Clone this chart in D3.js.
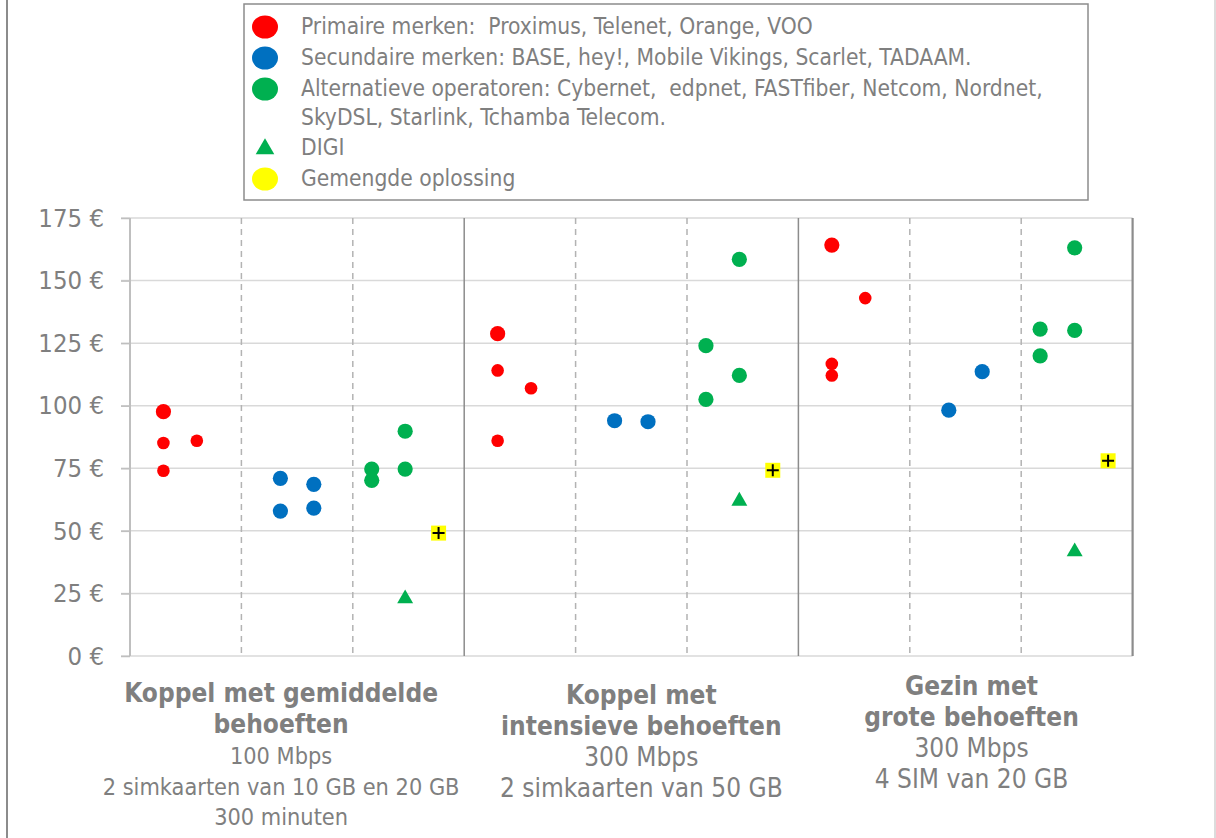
<!DOCTYPE html>
<html><head><meta charset="utf-8">
<script src="https://cdn.jsdelivr.net/npm/d3@7"></script>
<style>
  body { margin: 0; background: #fff; }
  text { font-family: "DejaVu Sans Condensed", "DejaVu Sans", sans-serif; fill: #7f7f7f; }
</style>
</head><body>
<svg width="1216" height="838"></svg>
<script>
// prices in euro per month, x = position inside the 9 sub-columns (3 profiles x 3 provider types)
var primaireTopX = [0.3, 3.3, 6.3];
var primaireTopY = [97.6, 128.8, 164.2];
var primaireX = [0.3, 0.3, 0.6, 3.3, 3.3, 3.6, 6.3, 6.3, 6.6];
var primaireY = [85.1, 74.0, 86.0, 114.1, 86.0, 107.0, 116.7, 112.1, 143.0];
var secundaireX = [1.35, 1.35, 1.65, 1.65, 4.35, 4.65, 7.35, 7.65];
var secundaireY = [71.0, 57.9, 68.6, 59.1, 94.0, 93.6, 98.2, 113.6];
var alternatiefX = [2.17, 2.17, 2.47, 2.47, 5.17, 5.17, 5.47, 5.47, 8.17, 8.17, 8.48, 8.48];
var alternatiefY = [74.7, 70.2, 89.8, 74.7, 124.0, 102.5, 158.5, 112.1, 130.6, 119.9, 163.1, 130.1];
var digiX = [2.47, 5.47, 8.48];
var digiY = [22.9, 61.9, 41.7];
var gemengdX = [2.77, 5.77, 8.78];
var gemengdY = [49.1, 74.2, 78.0];

var yTicks = [0, 25, 50, 75, 100, 125, 150, 175];
var profielen = [
    { titel: ["Koppel met gemiddelde", "behoeften"], sub: ["100 Mbps", "2 simkaarten van 10 GB en 20 GB", "300 minuten"] },
    { titel: ["Koppel met", "intensieve behoeften"], sub: ["300 Mbps", "2 simkaarten van 50 GB"] },
    { titel: ["Gezin met", "grote behoeften"], sub: ["300 Mbps", "4 SIM van 20 GB"] }
];
var legendLabels = [
    ["Primaire merken:  Proximus, Telenet, Orange, VOO"],
    ["Secundaire merken: BASE, hey!, Mobile Vikings, Scarlet, TADAAM."],
    ["Alternatieve operatoren: Cybernet,  edpnet, FASTfiber, Netcom, Nordnet,", "SkyDSL, Starlink, Tchamba Telecom."],
    ["DIGI"],
    ["Gemengde oplossing"]
];

var RED = "#ff0000", BLUE = "#0070c0", GREEN = "#00b050", YELLOW = "#ffff00";

var svg = d3.select("svg");

var x = d3.scaleLinear().domain([0, 9]).range([130, 1132.6]);
var y = d3.scaleLinear().domain([0, 175]).range([656, 218]);

// outer frame of the picture
svg.append("line").attr("x1", 7).attr("x2", 7).attr("y1", 0).attr("y2", 838)
    .attr("stroke", "#8c8c8c").attr("stroke-width", 2);
svg.append("line").attr("x1", 1215).attr("x2", 1215).attr("y1", 0).attr("y2", 838)
    .attr("stroke", "#d0d0d0").attr("stroke-width", 1.5);

// horizontal gridlines
svg.append("g").selectAll("line").data(yTicks).enter().append("line")
    .attr("x1", x(0) - 9).attr("x2", x(9))
    .attr("y1", function (d) { return y(d); }).attr("y2", function (d) { return y(d); })
    .attr("stroke", "#d9d9d9").attr("stroke-width", 1.5);

// vertical separators: dashed between provider types, solid between profiles
var seps = d3.range(1, 10);
svg.append("g").selectAll("line").data(seps).enter().append("line")
    .attr("x1", function (d) { return x(d); }).attr("x2", function (d) { return x(d); })
    .attr("y1", y(175)).attr("y2", y(0))
    .attr("stroke", function (d) { return d % 3 === 0 ? "#8c8c8c" : "#b3b3b3"; })
    .attr("stroke-width", function (d) { return d === 9 ? 2.2 : 1.5; })
    .attr("stroke-dasharray", function (d) { return d % 3 === 0 ? null : "6,5"; });

// y axis
var yAxis = d3.axisLeft(y).tickValues(yTicks).tickSize(9).tickPadding(17)
    .tickFormat(function (d) { return d + " €"; });
var ya = svg.append("g").attr("transform", "translate(" + x(0) + ",0)").call(yAxis);
ya.select(".domain").attr("stroke", "#bfbfbf").attr("stroke-width", 2).attr("d", "M0," + y(175) + "V" + y(0));
ya.selectAll(".tick line").attr("stroke", "#bfbfbf").attr("stroke-width", 1.5);
ya.selectAll(".tick text").style("font-size", "25.5px").attr("fill", "#7f7f7f")
    .style("font-family", "'DejaVu Sans Condensed', sans-serif");

// points
function zip(xs, ys) { return xs.map(function (v, i) { return [v, ys[i]]; }); }

var pts = svg.append("g");
pts.selectAll(".ptop").data(zip(primaireTopX, primaireTopY)).enter().append("circle")
    .attr("cx", function (d) { return x(d[0]); }).attr("cy", function (d) { return y(d[1]); })
    .attr("r", 7.6).attr("fill", RED);
pts.selectAll(".prim").data(zip(primaireX, primaireY)).enter().append("circle")
    .attr("cx", function (d) { return x(d[0]); }).attr("cy", function (d) { return y(d[1]); })
    .attr("r", 6.3).attr("fill", RED);
pts.selectAll(".sec").data(zip(secundaireX, secundaireY)).enter().append("circle")
    .attr("cx", function (d) { return x(d[0]); }).attr("cy", function (d) { return y(d[1]); })
    .attr("r", 7.6).attr("fill", BLUE);
pts.selectAll(".alt").data(zip(alternatiefX, alternatiefY)).enter().append("circle")
    .attr("cx", function (d) { return x(d[0]); }).attr("cy", function (d) { return y(d[1]); })
    .attr("r", 7.6).attr("fill", GREEN);
pts.selectAll(".digi").data(zip(digiX, digiY)).enter().append("path")
    .attr("d", d3.symbol().type(d3.symbolTriangle).size(110))
    .attr("transform", function (d) { return "translate(" + x(d[0]) + "," + y(d[1]) + ")"; })
    .attr("fill", GREEN);
var mix = pts.selectAll(".mix").data(zip(gemengdX, gemengdY)).enter().append("g")
    .attr("transform", function (d) { return "translate(" + x(d[0]) + "," + y(d[1]) + ")"; });
mix.append("rect").attr("x", -7.5).attr("y", -7.5).attr("width", 15).attr("height", 15).attr("fill", YELLOW);
mix.append("path").attr("d", "M-6,0H6M0,-6V6").attr("stroke", "#000").attr("stroke-width", 2);

// category labels under the axis
var catDx = [-16, 10, 6];
var catDy = [0, 2, -7];
var subSize = [23.3, 26, 26];
profielen.forEach(function (p, i) {
    var cx = x(i * 3 + 1.5) + catDx[i];
    var t = svg.append("text").attr("text-anchor", "middle")
        .attr("transform", "translate(" + cx + "," + (702 + catDy[i]) + ")");
    p.titel.forEach(function (line, j) {
        t.append("tspan").attr("x", 0).attr("y", j * 31).style("font-weight", "bold")
            .style("font-size", "26px").text(line);
    });
    p.sub.forEach(function (line, j) {
        t.append("tspan").attr("x", 0).attr("y", 62 + j * 30.5)
            .style("font-size", subSize[i] + "px").text(line);
    });
});

// legend
var lg = svg.append("g");
lg.append("rect").attr("x", 244).attr("y", 4).attr("width", 844).attr("height", 196)
    .attr("fill", "#fff").attr("stroke", "#8c8c8c").attr("stroke-width", 1.5);
var rowY = [27, 58, 89, 148, 179];
var legendColors = [RED, BLUE, GREEN, GREEN, YELLOW];
legendLabels.forEach(function (lines, i) {
    if (i === 3) {
        lg.append("path").attr("d", d3.symbol().type(d3.symbolTriangle).size(150))
            .attr("transform", "translate(265," + (rowY[i] + 1) + ")").attr("fill", legendColors[i]);
    } else {
        lg.append("ellipse").attr("cx", 265).attr("cy", rowY[i]).attr("rx", 13).attr("ry", 11.5)
            .attr("fill", legendColors[i]);
    }
    lines.forEach(function (line, j) {
        lg.append("text").attr("x", 301).attr("y", rowY[i] + 6.5 + j * 29)
            .style("font-size", "22.6px").style("white-space", "pre").text(line);
    });
});
</script>
</body></html>
